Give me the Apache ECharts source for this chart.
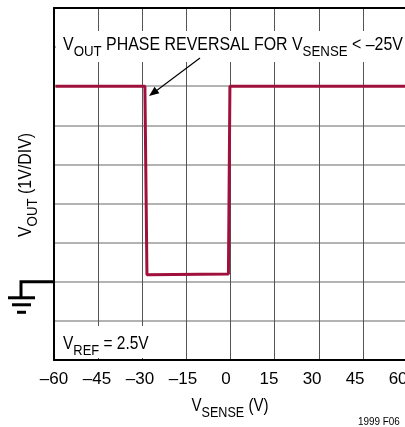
<!DOCTYPE html>
<html>
<head>
<meta charset="utf-8">
<script src="https://cdn.jsdelivr.net/npm/echarts@6/dist/echarts.min.js"></script>
<style>
    html, body {margin:0; padding:0; background:#fff;}
    #chartBox {width:405px; height:427px;}
</style>
</head>
<body>
<div id="chartBox"></div>
<script>
// trace
var vsense = [-59.5, -29.1, -28.4, -0.7, -0.2, 60];
var vout = [5, 5, 0.18, 0.2, 5, 5];
var xTicks = [-60, -45, -30, -15, 0, 15, 30, 45, 60];
// printed tick labels run a little tighter than the graticule
var labelMax = 63.1;

var fontName = "'Liberation Sans', Arial, sans-serif";
var traceColor = '#a0103c';

var traceData = [];
for (var i = 0; i < vsense.length; i++) {
    traceData.push([vsense[i], vout[i]]);
}

function subRich(size, subSize, lh) {
    return {
        a: {fontFamily: fontName, fontSize: size, lineHeight: lh, verticalAlign: 'middle', fill: '#000'},
        s: {fontFamily: fontName, fontSize: subSize, lineHeight: subSize, verticalAlign: 'bottom', fill: '#000'}
    };
}

var myChart = echarts.init(document.getElementById('chartBox'));
var option = {
    animation: false,
    backgroundColor: '#fff',
    grid: {left: 54, top: 8, right: -2, bottom: 67, outerBoundsMode: 'none', containLabel: false},
    xAxis: [{
        type: 'value', position: 'bottom', min: xTicks[0], max: xTicks[xTicks.length - 1], interval: 15,
        axisLine: {show: true, onZero: false, lineStyle: {color: '#000', width: 2}},
        axisTick: {show: false},
        axisLabel: {show: false},
        splitLine: {show: true, lineStyle: {color: '#555', width: 1}}
    }, {
        type: 'value', position: 'bottom', min: xTicks[0], max: labelMax, interval: 15,
        axisLine: {show: false, onZero: false},
        axisTick: {show: false},
        splitLine: {show: false},
        axisLabel: {
            margin: 11, fontSize: 17, color: '#000', fontFamily: fontName,
            showMinLabel: true, showMaxLabel: true, hideOverlap: false,
            formatter: function (v) {
                if (xTicks.indexOf(v) < 0) return '';
                return String(v).replace('-', '\u2013');
            }
        }
    }, {
        type: 'value', position: 'top', min: xTicks[0], max: xTicks[xTicks.length - 1],
        axisLine: {show: true, onZero: false, lineStyle: {color: '#000', width: 2}},
        axisTick: {show: false},
        axisLabel: {show: false},
        splitLine: {show: false}
    }],
    yAxis: {
        type: 'value', min: -2, max: 7, interval: 1,
        axisLine: {show: true, onZero: false, lineStyle: {color: '#000', width: 2}},
        axisTick: {show: false},
        axisLabel: {show: false},
        splitLine: {show: true, lineStyle: {color: '#9a9a9a', width: 1.5}}
    },
    series: [{
        type: 'line',
        xAxisIndex: 0,
        data: traceData,
        symbol: 'none',
        z: 5,
        lineStyle: {color: traceColor, width: 3}
    }]
};
myChart.setOption(option);

// ground marker sits on 0V, placed through the axes
var g0 = myChart.convertToPixel({yAxisIndex: 0}, 0);
var gx = myChart.convertToPixel({xAxisIndex: 0}, -60);

myChart.setOption({
    graphic: [
        {type: 'rect', z: 10, shape: {x: 56, y: 31, width: 350, height: 31}, style: {fill: '#fff'}},
        {type: 'rect', z: 10, shape: {x: 56, y: 326, width: 100, height: 32}, style: {fill: '#fff'}},
        {type: 'text', z: 11, x: 63, y: 45, scaleX: 0.885, style: {
            text: '{a|V}{s|OUT}{a| PHASE REVERSAL FOR V}{s|SENSE}{a| < \u201325V}',
            rich: subRich(18, 15, 28), align: 'left', verticalAlign: 'middle'}},
        {type: 'text', z: 11, x: 63, y: 344, scaleX: 0.86, style: {
            text: '{a|V}{s|REF}{a| = 2.5V}',
            rich: subRich(18, 15, 28), align: 'left', verticalAlign: 'middle'}},
        {type: 'text', z: 11, x: 230, y: 406, scaleX: 0.84, style: {
            text: '{a|V}{s|SENSE}{a| (V)}',
            rich: subRich(18, 15, 28), align: 'center', verticalAlign: 'middle'}},
        {type: 'text', z: 11, x: 26, y: 185, rotation: Math.PI / 2, scaleX: 0.885, style: {
            text: '{a|V}{s|OUT}{a| (1V/DIV)}',
            rich: subRich(18, 15, 28), align: 'center', verticalAlign: 'middle'}},
        {type: 'text', z: 11, x: 358, y: 422, scaleX: 0.9, style: {
            text: '1999 F06', font: '11px ' + fontName, fill: '#000', align: 'left', verticalAlign: 'middle'}},
        // arrow
        {type: 'line', z: 11, shape: {x1: 200, y1: 58, x2: 156, y2: 91}, style: {stroke: '#000', lineWidth: 1.2}},
        {type: 'polygon', z: 11, shape: {points: [[149, 96], [159.4, 93.2], [154.6, 86.8]]}, style: {fill: '#000'}},
        // ground symbol
        {type: 'polyline', z: 11, shape: {points: [[gx, g0], [21, g0], [21, g0 + 16]]}, style: {stroke: '#000', lineWidth: 3, fill: null}},
        {type: 'line', z: 11, shape: {x1: 8, y1: g0 + 16, x2: 35, y2: g0 + 16}, style: {stroke: '#000', lineWidth: 3}},
        {type: 'line', z: 11, shape: {x1: 12, y1: g0 + 23, x2: 31, y2: g0 + 23}, style: {stroke: '#000', lineWidth: 3}},
        {type: 'line', z: 11, shape: {x1: 17, y1: g0 + 30.5, x2: 26, y2: g0 + 30.5}, style: {stroke: '#000', lineWidth: 3}}
    ]
});
</script>
</body>
</html>
